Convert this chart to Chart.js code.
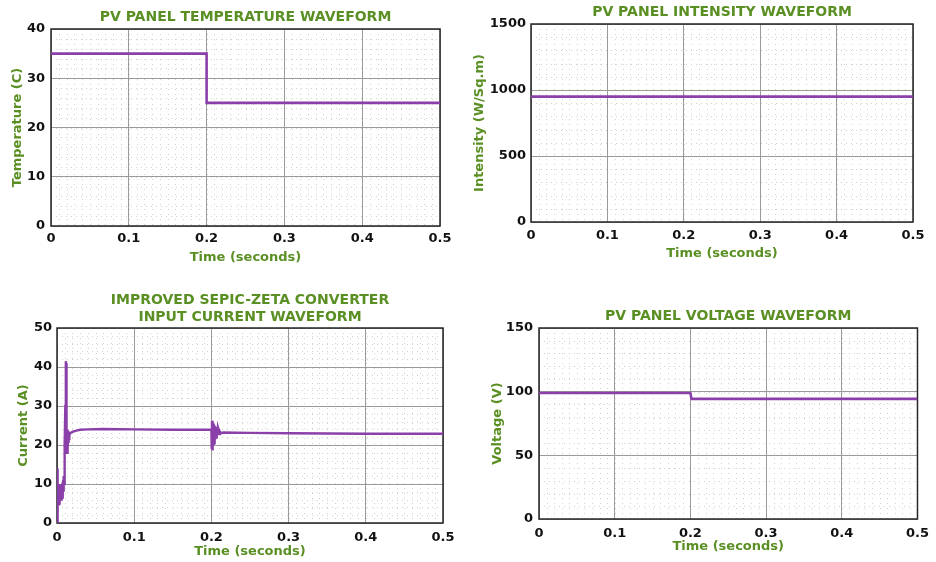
<!DOCTYPE html>
<html>
<head>
<meta charset="utf-8">
<script src="https://cdn.jsdelivr.net/npm/chart.js@4.4.1/dist/chart.umd.min.js"></script>
<style>
  html, body { margin: 0; padding: 0; background: #fff; }
  #wrap { position: relative; width: 936px; height: 562px; overflow: hidden; background: #fff; }
  canvas { position: absolute; }
</style>
</head>
<body>
<div id="wrap">
  <canvas id="cTemp" width="468" height="280" style="left:0px;top:0px"></canvas>
  <canvas id="cIntensity" width="468" height="280" style="left:468px;top:0px"></canvas>
  <canvas id="cCurrent" width="468" height="282" style="left:0px;top:280px"></canvas>
  <canvas id="cVoltage" width="468" height="282" style="left:468px;top:280px"></canvas>
</div>
<script>
// ---- time axis (shared by all four plots) ----
const timeTicks = [0, 0.1, 0.2, 0.3, 0.4, 0.5];
const timeTickLabels = ['0', '0.1', '0.2', '0.3', '0.4', '0.5'];

// ---- PV panel temperature (C) ----
const tempTime = [0, 0.2, 0.2, 0.5];
const tempValues = [35, 35, 25, 25];
const tempTicks = [0, 10, 20, 30, 40];

// ---- PV panel irradiance (W/Sq.m) ----
const intensityTime = [0, 0.5];
const intensityValues = [950, 950];
const intensityTicks = [0, 500, 1000, 1500];

// ---- converter input current (A) ----
const currentTime = [
  0, 0.0004, 0.0008, 0.0012, 0.0016, 0.0020, 0.0024, 0.0028, 0.0032, 0.0036, 0.0040, 0.0044, 0.0048,
  0.0052, 0.0056, 0.0060, 0.0064, 0.0068, 0.0072, 0.0076, 0.0080, 0.0084, 0.0088, 0.0092, 0.0096,
  0.0102, 0.0108, 0.0113, 0.0116, 0.0118, 0.0120, 0.0123, 0.0127, 0.0130, 0.0133, 0.0136, 0.0139,
  0.0142, 0.0145, 0.0148, 0.0152, 0.0156, 0.0160, 0.0170, 0.0200, 0.0250, 0.0300, 0.0400, 0.0600,
  0.1000, 0.1500, 0.2000,
  0.2004, 0.2008, 0.2012, 0.2016, 0.2020, 0.2024, 0.2028, 0.2032, 0.2036, 0.2040, 0.2044, 0.2048,
  0.2052, 0.2056, 0.2060, 0.2066, 0.2072, 0.2078, 0.2085, 0.2092, 0.2100, 0.2110, 0.2120, 0.2150,
  0.2500, 0.3000, 0.4000, 0.5000
];
const currentValues = [
  0, 14, 9, 5, 8, 4.5, 9.5, 5, 10, 5.5, 9.5, 6, 10,
  6, 10, 6.5, 9.5, 6.5, 10.5, 7, 11, 8, 12, 10, 14,
  20, 30, 38, 41.5, 39, 41, 32, 22, 18, 24, 18.5, 23.5,
  19, 23.5, 20.5, 23, 21.5, 22.5, 23, 23.4, 23.7, 23.9, 24.0, 24.1,
  24.0, 23.9, 23.9,
  19, 26.2, 18.6, 25.8, 19.5, 25.5, 20, 25.5, 20.5, 25, 21, 24.6,
  21.5, 24.3, 22, 24, 22.3, 23.8, 22.6, 23.6, 22.8, 23.4, 23.0, 23.2,
  23.1, 23.0, 22.9, 22.9
];
const currentTicks = [0, 10, 20, 30, 40, 50];

// ---- PV panel voltage (V) ----
const voltageTime = [0, 0.2, 0.2015, 0.5];
const voltageValues = [99, 99, 94.3, 94.3];
const voltageTicks = [0, 50, 100, 150];

// ---- styling ----
const FONT = "'DejaVu Sans', Verdana, sans-serif";
const GREEN = '#5a8f23';
const TRACE = '#8b3fa8';

// Dotted minor grid under everything, plot frame over the scales,
// and the bold green heading above the plot area.
const panelDecor = {
  id: 'panelDecor',
  beforeDraw(chart, args, opts) {
    const {ctx, chartArea: a, scales: {x, y}} = chart;
    ctx.save();
    ctx.fillStyle = '#fff';
    ctx.fillRect(0, 0, chart.width, chart.height);
    ctx.strokeStyle = '#d2d2d2';
    ctx.lineWidth = 1;
    ctx.setLineDash([1, 4]);
    for (let v = x.min + opts.xMinor; v < x.max - 1e-9; v += opts.xMinor) {
      const px = Math.round(x.getPixelForValue(v)) + 0.5;
      ctx.beginPath(); ctx.moveTo(px, a.top); ctx.lineTo(px, a.bottom); ctx.stroke();
    }
    for (let v = y.min + opts.yMinor; v < y.max - 1e-9; v += opts.yMinor) {
      const py = Math.round(y.getPixelForValue(v)) + 0.5;
      ctx.beginPath(); ctx.moveTo(a.left, py); ctx.lineTo(a.right, py); ctx.stroke();
    }
    ctx.restore();
  },
  beforeDatasetsDraw(chart) {
    const {ctx, chartArea: a} = chart;
    ctx.save();
    ctx.strokeStyle = '#262626';
    ctx.lineWidth = 1.5;
    ctx.strokeRect(a.left, a.top, a.right - a.left, a.bottom - a.top);
    ctx.restore();
  },
  afterDraw(chart, args, opts) {
    const {ctx, chartArea: a} = chart;
    ctx.save();
    ctx.fillStyle = GREEN;
    ctx.font = 'bold 14px ' + FONT;
    ctx.textAlign = 'center';
    ctx.textBaseline = 'middle';
    const cx = (a.left + a.right) / 2;
    opts.heading.forEach((line, i) => ctx.fillText(line, cx, opts.headingY[i]));
    ctx.restore();
  }
};

function makePanel(id, p) {
  const data = p.time.map((t, i) => ({x: t, y: p.values[i]}));
  return new Chart(document.getElementById(id), {
    type: 'line',
    data: {
      datasets: [{
        data,
        borderColor: TRACE,
        borderWidth: p.lineWidth,
        pointRadius: 0,
        tension: 0,
        fill: false
      }]
    },
    options: {
      responsive: false,
      animation: false,
      events: [],
      layout: {padding: {top: p.padTop, right: p.padRight, left: 0, bottom: 0}},
      plugins: {
        legend: {display: false},
        tooltip: {enabled: false},
        panelDecor: {heading: p.heading, headingY: p.headingY, xMinor: 0.01, yMinor: p.yMinor}
      },
      scales: {
        x: {
          type: 'linear',
          min: 0, max: 0.5,
          afterBuildTicks: s => { s.ticks = timeTicks.map(v => ({value: v})); },
          afterFit: s => { s.height = p.xAxisH; },
          ticks: {
            autoSkip: false, maxRotation: 0, padding: p.xTickPad,
            color: '#111', font: {family: FONT, size: 13, weight: 'bold'},
            callback: (v, i) => timeTickLabels[i]
          },
          grid: {color: '#9a9a9a', lineWidth: 1, drawTicks: false},
          border: {display: false},
          title: {
            display: true, text: 'Time (seconds)', color: GREEN,
            font: {family: FONT, size: 13, weight: 'bold'},
            padding: {top: 0, bottom: p.xTitlePad}
          }
        },
        y: {
          type: 'linear',
          min: p.ticks[0], max: p.ticks[p.ticks.length - 1],
          afterBuildTicks: s => { s.ticks = p.ticks.map(v => ({value: v})); },
          afterFit: s => { s.width = p.yAxisW; },
          ticks: {
            padding: p.yTickPad,
            color: '#111', font: {family: FONT, size: 13, weight: 'bold'},
            callback: (v, i) => String(p.ticks[i])
          },
          grid: {color: '#9a9a9a', lineWidth: 1, drawTicks: false},
          border: {display: false},
          title: {
            display: true, text: p.yTitle, color: GREEN,
            font: {family: FONT, size: 13, weight: 'bold'},
            padding: {top: p.yTitlePad, bottom: 0}
          }
        }
      }
    },
    plugins: [panelDecor]
  });
}

makePanel('cTemp', {
  time: tempTime, values: tempValues, ticks: tempTicks, yMinor: 2, lineWidth: 2.6,
  yTitle: 'Temperature (C)', heading: ['PV PANEL TEMPERATURE WAVEFORM'], headingY: [17],
  padTop: 29, padRight: 28, yAxisW: 51, xAxisH: 54,
  yTickPad: 6, xTickPad: 5, yTitlePad: 10, xTitlePad: 15
});

makePanel('cIntensity', {
  time: intensityTime, values: intensityValues, ticks: intensityTicks, yMinor: 100, lineWidth: 2.6,
  yTitle: 'Intensity (W/Sq.m)', heading: ['PV PANEL INTENSITY WAVEFORM'], headingY: [12],
  padTop: 24, padRight: 23, yAxisW: 63, xAxisH: 58,
  yTickPad: 5, xTickPad: 6, yTitlePad: 3.5, xTitlePad: 19
});

makePanel('cCurrent', {
  time: currentTime, values: currentValues, ticks: currentTicks, yMinor: 2, lineWidth: 2.4,
  yTitle: 'Current (A)', heading: ['IMPROVED SEPIC-ZETA CONVERTER', 'INPUT CURRENT WAVEFORM'], headingY: [20, 37],
  padTop: 48, padRight: 25, yAxisW: 57, xAxisH: 39,
  yTickPad: 5, xTickPad: 7, yTitlePad: 15.5, xTitlePad: 2.5
});

makePanel('cVoltage', {
  time: voltageTime, values: voltageValues, ticks: voltageTicks, yMinor: 10, lineWidth: 2.6,
  yTitle: 'Voltage (V)', heading: ['PV PANEL VOLTAGE WAVEFORM'], headingY: [36],
  padTop: 48, padRight: 15, yAxisW: 71, xAxisH: 43,
  yTickPad: 6, xTickPad: 7, yTitlePad: 22, xTitlePad: 7.5
});
</script>
</body>
</html>
